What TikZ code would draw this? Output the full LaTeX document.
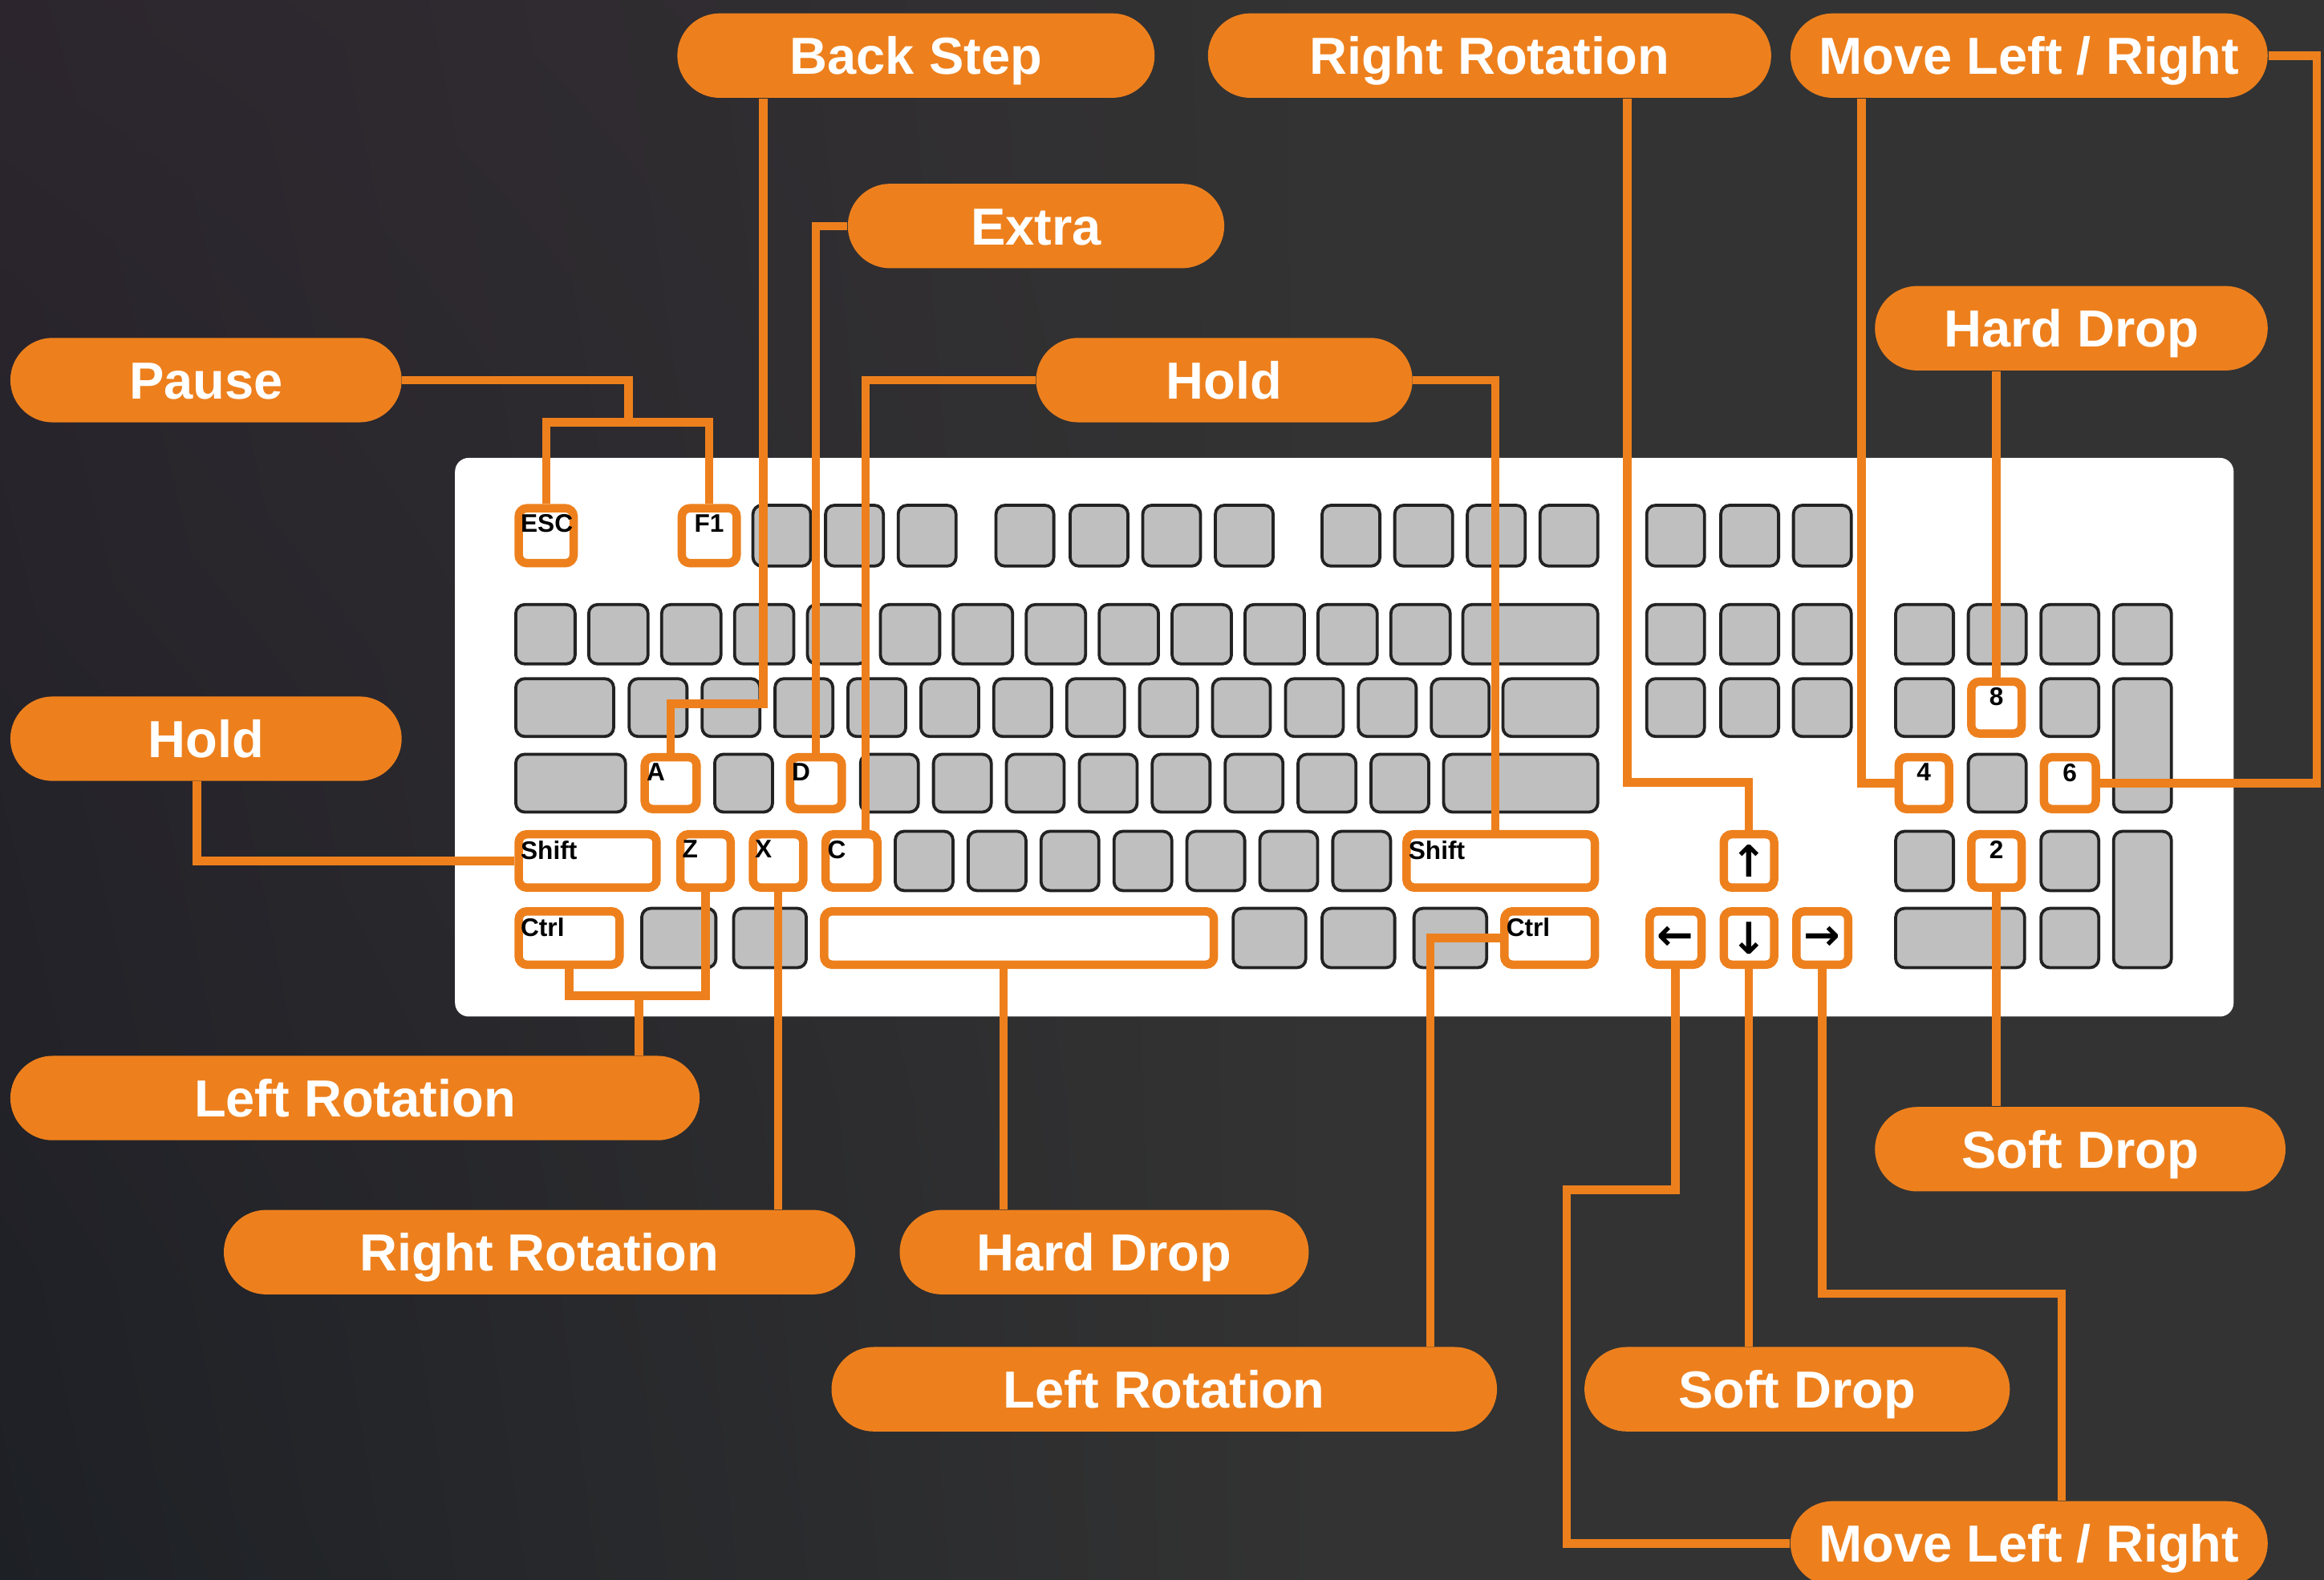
\documentclass[tikz,border=0pt]{standalone}
\usepackage{fontspec}
\setmainfont{Liberation Sans}
\newfontfamily\arrowfont{DejaVu Sans}
\usetikzlibrary{shapes.misc,fit,shadings}

\definecolor{bgdark}{RGB}{51,51,51}
\definecolor{bgpurple}{RGB}{44,37,46}
\definecolor{bgnavy}{RGB}{29,32,37}
\definecolor{kborange}{RGB}{237,128,29}
\definecolor{keygray}{RGB}{191,191,191}
\definecolor{keyedge}{RGB}{34,34,34}

\newlength\kb
\setlength\kb{0.18476mm}

\tikzset{
	pill/.style={rounded rectangle, fill=kborange, text=white, minimum height=57\kb,
		inner sep=0pt, text height=13.3pt, text depth=0pt,
		font=\bfseries\fontsize{18.5}{20}\selectfont},
	wire/.style={draw=kborange, line width=1.05mm},
	graykey/.style={fill=keygray, draw=keyedge, line width=0.38mm, rounded corners=1.1mm},
	hotkey/.style={fill=white, draw=kborange, line width=1.05mm, rounded corners=1mm, inner sep=0pt},
	keytext/.style={inner sep=0pt, text=black, font=\bfseries\fontsize{9}{10}\selectfont},
	arrowtext/.style={inner sep=0pt, text=black, font=\arrowfont\bfseries\fontsize{15.5}{16}\selectfont},
	keytl/.style={label={[keytext, anchor=north west, xshift=0.7mm, yshift=-1.25mm]north west:#1}},
	keytc/.style={label={[keytext, anchor=north, yshift=-1.25mm]north:#1}},
	keyarrow/.style={label={[arrowtext]center:#1}}
}

\begin{document}
\begin{tikzpicture}[x=0.18476mm, y=-0.18476mm]
	
	% Canvas
	\useasboundingbox (0,0) rectangle (1568,1066);
	\clip (0,0) rectangle (1568,1066);
	\fill[bgdark] (0,0) rectangle (1568,1066);
	\shade[upper left=bgpurple, lower left=bgnavy, upper right=bgdark, lower right=bgdark]
	(0,0) rectangle (900,1066);
	
	% Keyboard body
	\fill[white, rounded corners=1.7mm] (307,309) rectangle (1507,686);
	
	% Plain keys, row by row
	\foreach \x in {507,556,605,671,721,770,819,891,940,989,1038,1110,1160,1209}
	\draw[graykey] (\x+1,341) rectangle ++(39,41);
	
	\foreach \k in {0,...,12}
	\draw[graykey] ({348+49.2*\k},408) rectangle ++(40,40);
	\draw[graykey] (987,408) rectangle (1078,448);
	\foreach \x in {1110,1160,1209,1278,1327,1376,1425}
	\draw[graykey] (\x+1,408) rectangle ++(39,40);
	
	\draw[graykey] (348,458) rectangle (414,497);
	\foreach \k in {0,...,11}
	\draw[graykey] ({424.5+49.2*\k},458) rectangle ++(39,39);
	\draw[graykey] (1014,458) rectangle (1078,497);
	\foreach \x in {1110,1160,1209,1278,1376}
	\draw[graykey] (\x+1,458) rectangle ++(39,39);
	\draw[graykey] (1426,458) rectangle (1465,548);
	
	\draw[graykey] (348,509) rectangle (422,548);
	\foreach \k in {1,3,4,5,6,7,8,9,10}
	\draw[graykey] ({433+49.2*\k},509) rectangle ++(39,39);
	\draw[graykey] (974,509) rectangle (1078,548);
	\draw[graykey] (1328,509) rectangle ++(39,39);
	
	\foreach \k in {0,...,6}
	\draw[graykey] ({604+49.2*\k},561) rectangle ++(39,40);
	\foreach \x in {1278,1376}
	\draw[graykey] (\x+1,561) rectangle ++(39,40);
	\draw[graykey] (1426,561) rectangle (1465,653);
	
	\draw[graykey] (433,613) rectangle (483,653);
	\draw[graykey] (495,613) rectangle (544,653);
	\draw[graykey] (832,613) rectangle (881,653);
	\draw[graykey] (892,613) rectangle (941,653);
	\draw[graykey] (954,613) rectangle (1003,653);
	\draw[graykey] (1279,613) rectangle (1366,653);
	\draw[graykey] (1377,613) rectangle (1416,653);
	
	% Marked keys
	\node[hotkey, fit={(350,343) (387,380)}, keytl=ESC] (esc) {};
	\node[hotkey, fit={(460,343) (497,380)}, keytc=F1] (f1) {};
	\node[hotkey, fit={(435,511) (470,546)}, keytl=A] (keyA) {};
	\node[hotkey, fit={(533,511) (568,546)}, keytl=D] (keyD) {};
	\node[hotkey, fit={(350,563) (443,599)}, keytl=Shift] (lshift) {};
	\node[hotkey, fit={(459,563) (493,599)}, keytl=Z] (keyZ) {};
	\node[hotkey, fit={(508,563) (542,599)}, keytl=X] (keyX) {};
	\node[hotkey, fit={(557,563) (592,599)}, keytl=C] (keyC) {};
	\node[hotkey, fit={(350,615) (418,651)}, keytl=Ctrl] (lctrl) {};
	\node[hotkey, fit={(556,615) (819,651)}] (spacebar) {};
	\node[hotkey, fit={(949,563) (1076,599)}, keytl=Shift] (rshift) {};
	\node[hotkey, fit={(1015,615) (1076,651)}, keytl=Ctrl] (rctrl) {};
	\node[hotkey, fit={(1163,563) (1197,599)}, keyarrow=↑] (arrowU) {};
	\node[hotkey, fit={(1113,615) (1148,651)}, keyarrow=←] (arrowL) {};
	\node[hotkey, fit={(1163,615) (1197,651)}, keyarrow=↓] (arrowD) {};
	\node[hotkey, fit={(1212,615) (1247,651)}, keyarrow=→] (arrowR) {};
	\node[hotkey, fit={(1330,460) (1364,495)}, keytc=8] (np8) {};
	\node[hotkey, fit={(1281,511) (1315,546)}, keytc=4] (np4) {};
	\node[hotkey, fit={(1379,511) (1414,546)}, keytc=6] (np6) {};
	\node[hotkey, fit={(1330,563) (1364,599)}, keytc=2] (np2) {};
	
	% Captions
	\node[pill, minimum width=322\kb] (backstep) at (618,37.5) {Back Step};
	\node[pill, minimum width=380\kb] (rrottop) at (1005,37.5) {Right Rotation};
	\node[pill, minimum width=322\kb] (movetop) at (1369,37.5) {Move Left / Right};
	\node[pill, minimum width=254\kb] (extra) at (699,152.5) {Extra};
	\node[pill, minimum width=264\kb] (pause) at (139,256.5) {Pause};
	\node[pill, minimum width=254\kb] (holdtop) at (826,256.5) {Hold};
	\node[pill, minimum width=265\kb] (hdroptop) at (1397.5,221.5) {Hard Drop};
	\node[pill, minimum width=264\kb] (holdleft) at (139,498.5) {Hold};
	\node[pill, minimum width=465\kb] (lrotleft) at (239.5,741) {Left Rotation};
	\node[pill, minimum width=277\kb] (sdropright) at (1403.5,775.5) {Soft Drop};
	\node[pill, minimum width=426\kb] (rrotbottom) at (364,845) {Right Rotation};
	\node[pill, minimum width=276\kb] (hdropbottom) at (745,845) {Hard Drop};
	\node[pill, minimum width=449\kb] (lrotbottom) at (785.5,937.5) {Left Rotation};
	\node[pill, minimum width=287\kb] (sdropbottom) at (1212.5,937.5) {Soft Drop};
	\node[pill, minimum width=322\kb] (movebottom) at (1369,1041.5) {Move Left / Right};
	
	% Leaders from captions to keys
	\coordinate (pausejoin) at (424,285);
	\draw[wire] (pause.east) -| (pausejoin);
	\draw[wire] (esc.north) |- (pausejoin) -| (f1.north);
	\draw[wire] (515,0 |- backstep.south) |- (keyA.north |- 0,475) -- (keyA.north);
	\draw[wire] (extra.west) -| (keyD.north);
	\draw[wire] (holdtop.west) -| (584,0 |- keyC.north);
	\draw[wire] (holdtop.east) -| (1009,0 |- rshift.north);
	\draw[wire] (1098,0 |- rrottop.south) |- (arrowU.north |- 0,528) -- (arrowU.north);
	\draw[wire] (1256,0 |- movetop.south) |- (np4.west);
	\draw[wire] (movetop.east) -| (1563,0 |- np6.east) -- (np6.east);
	\draw[wire] (np8.north |- hdroptop.south) -- (np8.north);
	\draw[wire] (133,0 |- holdleft.south) |- (lshift.west);
	\coordinate (lrotjoin) at (431,672);
	\draw[wire] (lctrl.south) |- (lrotjoin) -| (keyZ.south);
	\draw[wire] (lrotjoin) -- (lrotjoin |- lrotleft.north);
	\draw[wire] (keyX.south) -- (keyX.south |- rrotbottom.north);
	\draw[wire] (677,0 |- spacebar.south) -- (677,0 |- hdropbottom.north);
	\draw[wire] (rctrl.west) -| (965,0 |- lrotbottom.north);
	\draw[wire] (arrowD.south) -- (arrowD.south |- sdropbottom.north);
	\draw[wire] (arrowL.south) |- (1057,803) |- (movebottom.west);
	\draw[wire] (arrowR.south) |- (1391,873) -- (1391,0 |- movebottom.north);
	\draw[wire] (np2.south) -- (np2.south |- sdropright.north);
	
\end{tikzpicture}
\end{document}
